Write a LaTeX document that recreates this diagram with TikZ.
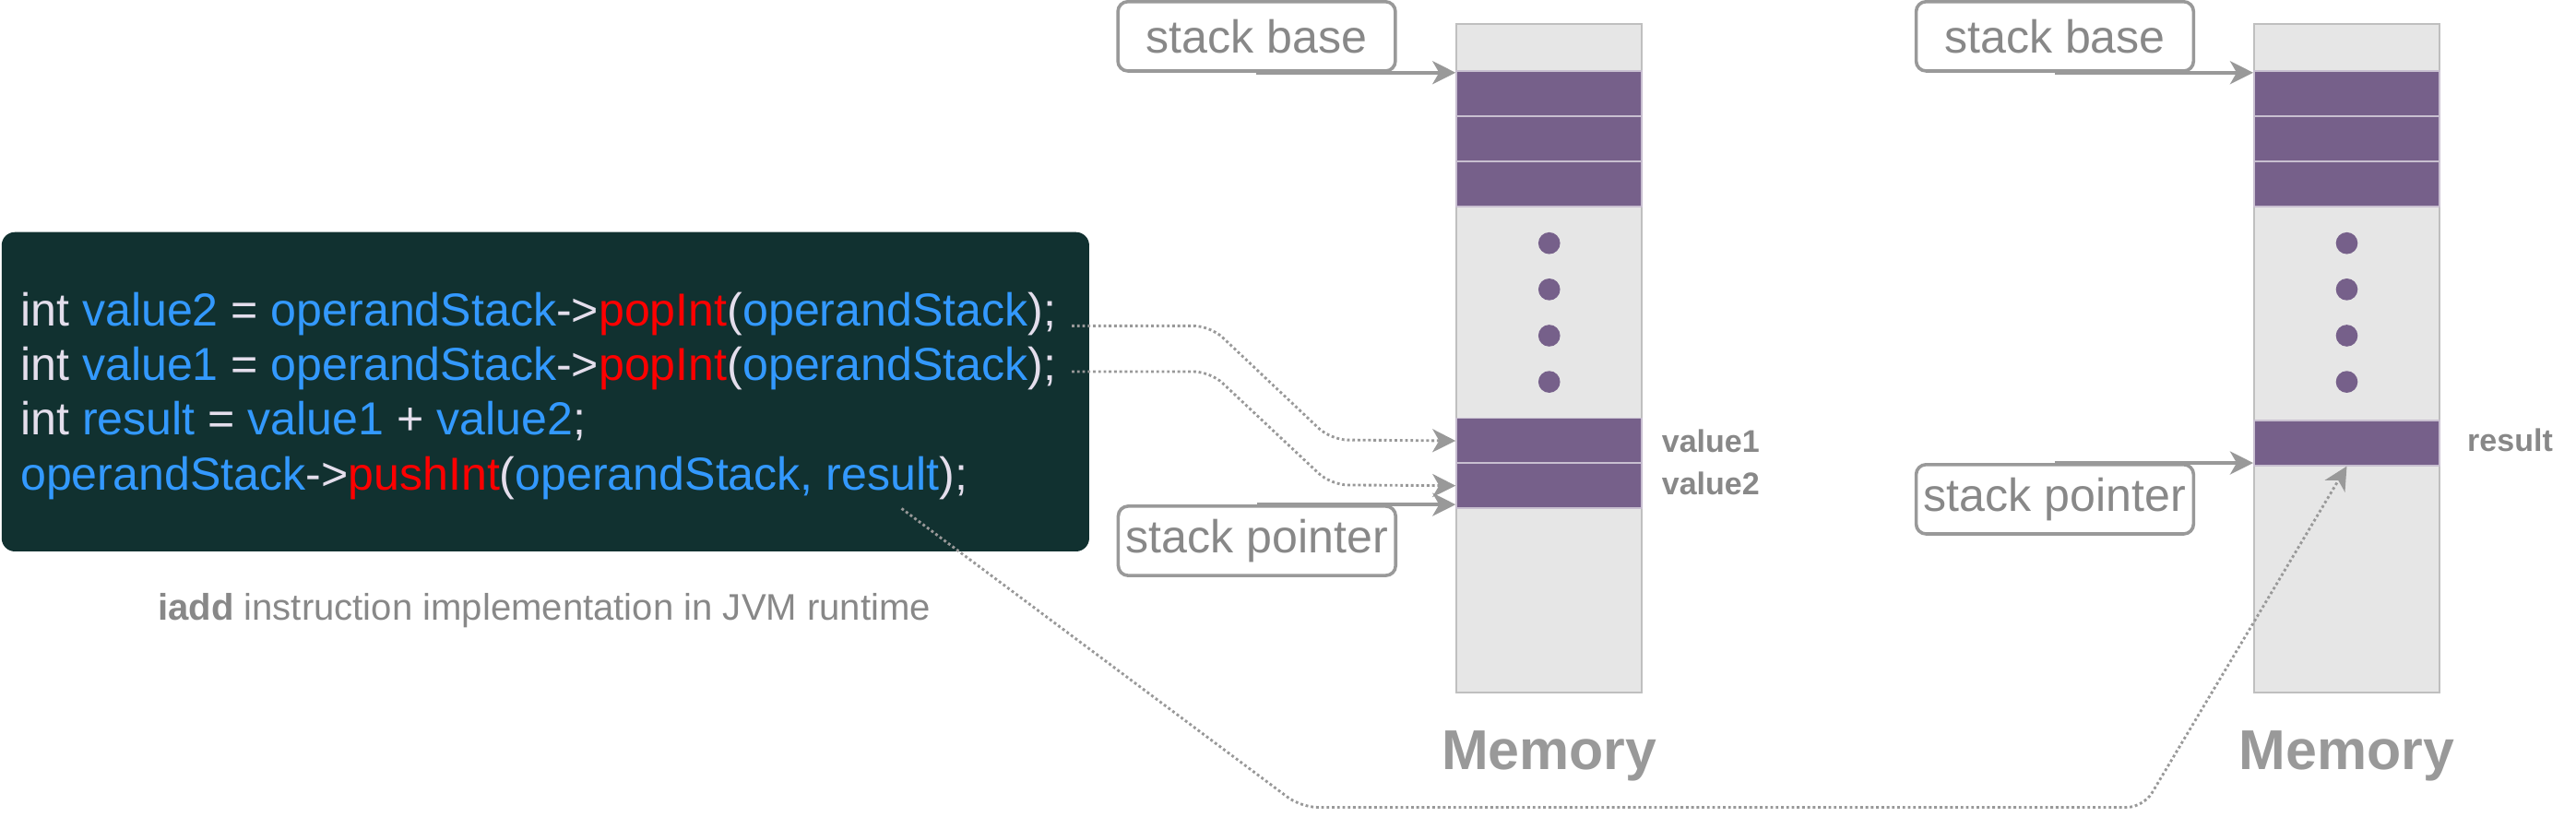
\documentclass[tikz,border=0pt]{standalone}
\usepackage{fontspec}
\setmainfont{Liberation Sans}
\usetikzlibrary{arrows.meta, positioning, calc}

\definecolor{codebg}{HTML}{113130}
\definecolor{codefg}{HTML}{E4DEEC}
\definecolor{codeblue}{HTML}{3399FF}
\definecolor{codered}{HTML}{FF0000}
\definecolor{slot}{HTML}{76608A}
\definecolor{memfill}{HTML}{E6E6E6}
\definecolor{linegray}{HTML}{999999}
\definecolor{textgray}{HTML}{888888}

\newcommand{\codevar}[1]{\textcolor{codeblue}{#1}}
\newcommand{\codefn}[1]{\textcolor{codered}{#1}}

\begin{document}
\begin{tikzpicture}[x=1pt, y=-1pt,
  codeline/.style={anchor=base west, inner sep=0pt, text=codefg, font=\fontsize{14}{16}\selectfont},
  ptrbox/.style={draw=linegray, line width=1pt, rounded corners=3pt, minimum width=84pt, minimum height=21pt, inner sep=0pt, text=textgray, font=\fontsize{14}{16}\selectfont},
  memcol/.style={fill=memfill, draw=black!25, line width=0.5pt, minimum width=56.2pt, minimum height=202.5pt, inner sep=0pt},
  slotcell/.style={fill=slot, draw=slot!40, line width=0.5pt, minimum width=56.2pt, minimum height=13.7pt, inner sep=0pt, anchor=north},
  ptr/.style={draw=linegray, line width=1pt, -{Stealth[length=7pt, width=7pt, inset=2pt]}},
  flow/.style={draw=linegray, line width=0.8pt, dash pattern=on 0.8pt off 0.8pt, rounded corners=5pt, -{Stealth[length=7pt, width=7pt, inset=2pt]}},
  memlabel/.style={anchor=base, inner sep=0pt, text=black!40, font=\fontsize{17}{20}\selectfont\bfseries},
  slotlabel/.style={anchor=base west, inner sep=0pt, text=textgray, font=\fontsize{9.5}{11}\selectfont\bfseries}]
\useasboundingbox (0,0) rectangle (780,250.8);

% iadd code
\node[fill=codebg, rounded corners=4pt, minimum width=329.3pt, minimum height=96.7pt, inner sep=0pt] (code) at (165.15,118.65) {};
\node[codeline] (l1) at (6,98.7) {int \codevar{value2} = \codevar{operandStack}->\codefn{popInt}(\codevar{operandStack});};
\node[codeline] (l2) at (6,115.25) {int \codevar{value1} = \codevar{operandStack}->\codefn{popInt}(\codevar{operandStack});};
\node[codeline] (l3) at (6,131.75) {int \codevar{result} = \codevar{value1} + \codevar{value2};};
\node[codeline] (l4) at (6,148.3) {\codevar{operandStack}->\codefn{pushInt}(\codevar{operandStack, result});};
\node[anchor=base, inner sep=0pt, text=textgray, font=\fontsize{11.2}{13}\selectfont] (caption) at (164.8,187.75) {\textbf{iadd} instruction implementation in JVM runtime};

% memory before and after
\node[memcol] (col1) at (469.1,108.55) {};
\node[memcol] (col2) at (710.6,108.55) {};
\foreach \c in {1,2} {
  \foreach \i in {0,1,2}
    \node[slotcell] (s\c\i) at ($(col\c.north)+(0,14.2+13.7*\i)$) {};
  \foreach \d in {0,...,3}
    \fill[slot] ($(col\c.north)+(0,66.6+14*\d)$) circle (3.3);
}
\node[slotcell] (v1) at (469.1,126.4) {};
\node[slotcell] (v2) at (469.1,140) {};
\node[slotcell] (res) at (710.6,127) {};
\node[slotlabel] (v1lab) at (503,137) {value1};
\node[slotlabel] (v2lab) at (503,149.85) {value2};
\node[slotlabel] (reslab) at (746.9,136.65) {result};
\node[memlabel] (mem1) at (469.1,233) {Memory};
\node[memlabel] (mem2) at (710.6,233) {Memory};

% stack base / pointer
\node[ptrbox] (sb1) at (380.5,11) {stack base};
\node[ptrbox] (sp1) at (380.6,163.8) {stack pointer};
\node[ptrbox] (sb2) at (622.2,11) {stack base};
\node[ptrbox] (sp2) at (622.2,151.2) {stack pointer};
\draw[ptr] (sb1.south) -- (sb1.south -| col1.west);
\draw[ptr] (sp1.north) -- (sp1.north -| col1.west);
\draw[ptr] (sb2.south) -- (sb2.south -| col2.west);
\draw[ptr] (sp2.north) -- (sp2.north -| col2.west);

% pops and push
\coordinate (pushsrc) at (273,154);
\draw[flow] ([xshift=4.5pt]l1.base east) -- (366.5,98.7) -- (403,133.2) -- (v1.west);
\draw[flow] ([xshift=4.5pt, yshift=2.7pt]l2.base east) -- (366.5,112.55) -- (403,146.85) -- (v2.west);
\draw[flow] (pushsrc) -- (394,244.5) -- (649,244.5) -- (res.south);
\end{tikzpicture}
\end{document}
